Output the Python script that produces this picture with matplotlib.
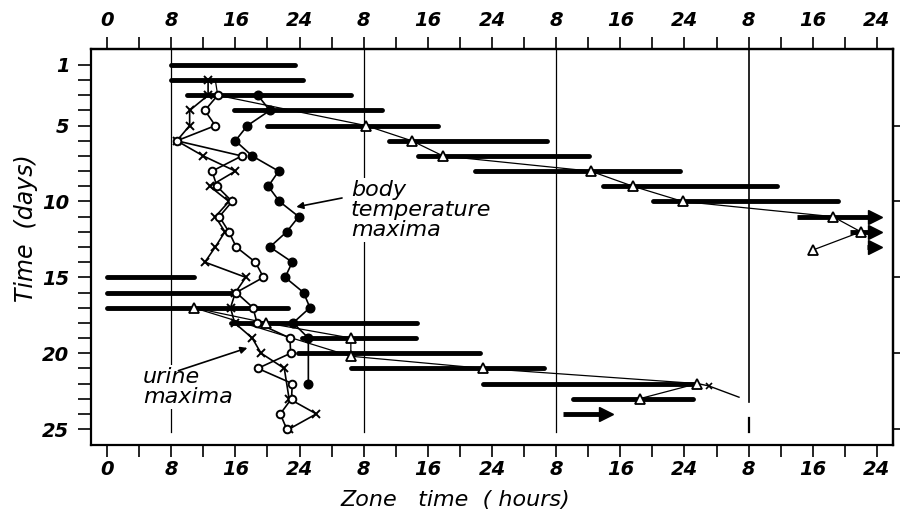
import matplotlib
matplotlib.use('Agg')
import matplotlib.pyplot as plt

# ---------------- data ----------------
# activity bars: day, start hour, end hour (continuous hours axis 0..96)
bar_days  = [1, 2, 3, 4, 5, 6, 7, 8, 9, 10, 11, 12, 13, 15, 16, 17, 18, 19, 20, 21, 22, 23, 24]
bar_start = [8.0, 8.0, 10.0, 15.8, 20.0, 35.2, 38.8, 45.9, 61.8, 68.1, 86.0, 92.6, 94.8,
             0.0, 0.0, 0.0, 15.5, 24.3, 23.8, 30.4, 46.9, 58.1, 56.9]
bar_end   = [23.4, 24.4, 30.4, 34.3, 41.3, 54.9, 60.1, 71.4, 83.5, 91.1, 96.6, 96.6, 96.6,
             10.8, 15.6, 22.6, 38.7, 38.5, 46.5, 54.5, 73.6, 73.1, 63.1]
arrow_days = [11, 12, 13, 24]

# body temperature maxima (filled circles)
temp_days  = [3, 4, 5, 6, 7, 8, 9, 10, 11, 12, 13, 14, 15, 16, 17, 18, 19, 22]
temp_hours = [18.8, 20.3, 17.5, 16.0, 18.1, 21.4, 20.1, 21.5, 23.9, 22.4, 20.3, 23.1,
              22.2, 24.5, 25.3, 23.2, 25.1, 25.1]

# open circles
circ_days  = [3, 4, 5, 6, 7, 8, 9, 10, 11, 12, 13, 14, 15, 16, 17, 18, 19, 20, 21, 22, 23, 24, 25]
circ_hours = [13.8, 12.2, 13.5, 8.7, 16.8, 13.1, 13.7, 15.6, 14.0, 15.2, 16.1, 18.5,
              19.5, 16.1, 18.2, 18.7, 22.8, 22.9, 18.8, 23.1, 23.0, 21.6, 22.4]

# urine maxima (crosses)
urine_days  = [2, 3, 4, 5, 6, 7, 8, 9, 10, 11, 12, 13, 14, 15, 16, 17, 18, 19, 20, 21, 23, 24, 25]
urine_hours = [12.6, 12.6, 10.3, 10.3, 8.7, 12.0, 16.0, 12.8, 15.2, 13.5, 14.7, 13.5,
               12.2, 17.3, 16.0, 15.4, 15.9, 18.1, 19.2, 22.1, 22.7, 26.1, 22.7]

# open triangles, first run (first point hidden under the circle)
tri1_days  = [2, 3, 5, 6, 7, 8, 9, 10, 11, 12, 13.2]
tri1_hours = [13.5, 13.8, 32.3, 38.0, 41.9, 60.3, 65.6, 71.8, 90.5, 94.0, 88.0]
# open triangles, second run
tri2_days  = [17, 18, 19, 20.2, 21, 22, 23]
tri2_hours = [10.8, 19.8, 30.4, 30.4, 46.9, 73.6, 66.4]
# small tail after day 22
tail_days  = [22.0, 22.15, 22.9]
tail_hours = [73.6, 75.0, 78.8]

x_ticks = list(range(0, 97, 8))
x_minor = list(range(4, 96, 8))
x_labels = ['0', '8', '16', '24', '8', '16', '24', '8', '16', '24', '8', '16', '24']
y_ticks = [1, 5, 10, 15, 20, 25]
y_minor = [d for d in range(2, 25) if d not in y_ticks]
y_right = [5, 10, 15, 20, 25]
day_lines = [8, 32, 56, 80]

# ---------------- figure ----------------
W, H = 904, 515
fig = plt.figure(figsize=(W / 100, H / 100), dpi=100)
ax = fig.add_axes([91 / W, 1 - 445 / H, (893 - 91) / W, (445 - 49) / H])
ax.set_xlim(-2.0, 98.0)
ax.set_ylim(26.05, -0.05)

tickfont = dict(family='DejaVu Sans', style='italic', weight='bold', size=14)
txtfont = dict(family='DejaVu Sans', style='italic', size=16)

# vertical 08:00 lines
for i, h in enumerate(day_lines):
    if i == 3:
        ax.plot([h, h], [-0.05, 23.2], color='black', lw=1.2, zorder=1)
        ax.plot([h, h], [24.3, 25.2], color='black', lw=1.6, zorder=1)
    else:
        ax.plot([h, h], [-0.05, 25.2], color='black', lw=0.9, zorder=1)

# bars
for d, s, e in zip(bar_days, bar_start, bar_end):
    if d in arrow_days:
        ax.plot([s, e - 0.9], [d, d], color='black', lw=3.5, solid_capstyle='butt', zorder=2)
        ax.plot([e - 0.9], [d], marker='>', ms=9.5, color='black', zorder=2)
    else:
        ax.plot([s, e], [d, d], color='black', lw=3.5, solid_capstyle='round', zorder=2)

# triangle runs
ax.plot(tri1_hours, tri1_days, color='black', lw=0.9, zorder=3)
ax.plot(tri1_hours[2:], tri1_days[2:], ls='none', marker='^', ms=6.5, mfc='white',
        mec='black', mew=1.3, zorder=5)
ax.plot(tri2_hours, tri2_days, color='black', lw=0.9, zorder=3)
ax.plot([tri2_hours[0], tri2_hours[3]], [tri2_days[0], tri2_days[3]], color='black', lw=0.9, zorder=3)
ax.plot(tri2_hours, tri2_days, ls='none', marker='^', ms=6.5, mfc='white',
        mec='black', mew=1.3, zorder=5)
ax.plot(tail_hours, tail_days, color='black', lw=1.0, marker='x', ms=5, mew=1.2,
        markevery=[1], zorder=3)

# urine crosses
ax.plot(urine_hours, urine_days, color='black', lw=1.2, marker='x', ms=5.5, mew=1.4, zorder=4)
# open circles
ax.plot(circ_hours, circ_days, color='black', lw=1.2, marker='o', ms=5.5, mfc='white',
        mec='black', mew=1.4, zorder=4)
# body temperature filled circles
ax.plot(temp_hours, temp_days, color='black', lw=1.2, marker='o', ms=6.2, mfc='black',
        mec='black', zorder=4)

# annotations
ax.text(30.4, 8.6, 'body\ntemperature\nmaxima', va='top', ha='left', linespacing=1.0,
        bbox=dict(facecolor='white', edgecolor='none', pad=1.5), zorder=6, **txtfont)
ax.annotate('', xy=(23.6, 10.36), xytext=(29.3, 9.77),
            arrowprops=dict(arrowstyle='-|>', lw=1.2, color='black', mutation_scale=10,
                            shrinkA=0, shrinkB=0), zorder=6)
ax.text(4.5, 20.9, 'urine\nmaxima', va='top', ha='left', linespacing=1.0,
        bbox=dict(facecolor='white', edgecolor='none', pad=1.5), zorder=6, **txtfont)
ax.annotate('', xy=(17.5, 19.65), xytext=(8.9, 21.15),
            arrowprops=dict(arrowstyle='-|>', lw=1.2, color='black', mutation_scale=10,
                            shrinkA=0, shrinkB=0), zorder=6)

# axes styling
for sp in ax.spines.values():
    sp.set_linewidth(1.6)

ax.set_xticks(x_ticks)
ax.set_xticks(x_minor, minor=True)
ax.set_xticklabels(x_labels, fontdict=tickfont)
ax.tick_params(axis='x', which='both', direction='out', length=8.5, width=1.2, pad=2,
               bottom=True, top=False)

ax.set_yticks(y_ticks)
ax.set_yticks(y_minor, minor=True)
ax.set_yticklabels([str(v) for v in y_ticks], fontdict=tickfont)
ax.tick_params(axis='y', which='both', direction='out', length=9.5, width=1.2, pad=6,
               left=True, right=False)

top = ax.secondary_xaxis('top')
top.set_xticks(x_ticks)
top.set_xticks(x_minor, minor=True)
top.set_xticklabels(x_labels, fontdict=tickfont)
top.tick_params(axis='x', which='both', direction='out', length=8.5, width=1.2, pad=5)
top.spines['top'].set_linewidth(1.6)

right = ax.secondary_yaxis('right')
right.set_yticks(y_right)
right.set_yticklabels([])
right.tick_params(axis='y', which='both', direction='out', length=5, width=1.2)
right.spines['right'].set_linewidth(1.6)

fig.text(455 / W, 1 - 500 / H, 'Zone   time  ( hours)', ha='center', va='center', **txtfont)
fig.text(26 / W, 1 - 228 / H, 'Time  (days)', ha='center', va='center', rotation=90,
         family='DejaVu Sans', style='italic', size=17)

fig.savefig('out.png', dpi=100)
